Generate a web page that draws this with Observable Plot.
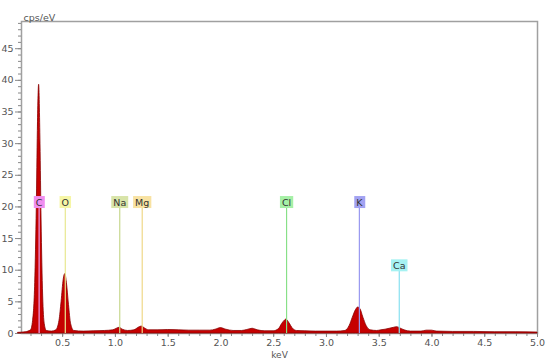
<!DOCTYPE html>
<html>
<head>
<meta charset="utf-8">
<script src="https://cdn.jsdelivr.net/npm/d3@7"></script>
<script src="https://cdn.jsdelivr.net/npm/@observablehq/plot@0.6"></script>
<style>
  html, body { margin: 0; padding: 0; background: #fff; }
  #chart svg { display: block; }
</style>
</head>
<body>
<div id="chart"></div>
<script>
// Spectrum (keV, cps/eV)
const energy = [0.08,0.15,0.20,0.22,0.24,0.255,0.265,0.277,0.29,0.30,0.315,0.33,0.35,0.40,0.44,0.47,0.49,0.51,0.525,0.54,0.56,0.58,0.61,0.70,0.80,0.90,0.98,1.02,1.04,1.07,1.12,1.18,1.22,1.25,1.28,1.32,1.40,1.50,1.60,1.70,1.80,1.90,1.95,2.00,2.05,2.12,2.20,2.25,2.30,2.35,2.42,2.50,2.55,2.58,2.61,2.62,2.65,2.68,2.72,2.80,2.90,3.00,3.10,3.18,3.22,3.25,3.28,3.30,3.32,3.35,3.38,3.42,3.48,3.52,3.56,3.60,3.64,3.67,3.70,3.74,3.80,3.90,3.95,4.00,4.05,4.20,4.40,4.60,4.80,5.00];
const counts = [0.1,0.2,0.5,2,8,20,32,39.3,30,18,6,1.5,0.4,0.3,0.5,2,5,8.5,9.4,8,4.5,1.5,0.4,0.3,0.35,0.4,0.5,0.8,0.9,0.6,0.4,0.5,0.9,1.1,0.8,0.5,0.5,0.55,0.5,0.45,0.45,0.45,0.6,0.85,0.6,0.4,0.4,0.55,0.75,0.5,0.35,0.35,0.7,1.5,2.1,2.2,1.6,0.8,0.4,0.35,0.3,0.3,0.3,0.4,1.2,2.5,3.7,4.1,3.9,2.5,1.2,0.5,0.4,0.5,0.6,0.75,0.9,1.0,0.8,0.5,0.3,0.3,0.45,0.45,0.3,0.25,0.25,0.2,0.2,0.15];

// Element markers
const elements = ["C","O","Na","Mg","Cl","K","Ca"];
const elementKeV = [0.277,0.525,1.041,1.254,2.622,3.312,3.690];
const labelLevel = [20.7,20.7,20.7,20.7,20.7,20.7,10.7];
const boxColors = ["#f08ef0","#f6f6a6","#d8e4a8","#f8e2a2","#a6f0a6","#a2a2f2","#a6f2f2"];
const lineColors = ["#f0a0f0","#e8e890","#c8d890","#f0d888","#88e088","#9898f0","#88e0f0"];

// Axes
const xTicks = [0.5,1.0,1.5,2.0,2.5,3.0,3.5,4.0,4.5,5.0];
const yTicks = [0,5,10,15,20,25,30,35,40,45];
const xMinor = d3.range(2, 51).map(i => i / 10);
const yMinor = d3.range(0, 50);

const spectrum = energy.map((e, i) => ({e, c: counts[i]}));
const marks = elements.map((name, i) => ({name, e: elementKeV[i], y: labelLevel[i], box: boxColors[i], line: lineColors[i]}));

const LABEL_FILL = "#323232";

const chart = Plot.plot({
  width: 547,
  height: 362,
  marginLeft: 21,
  marginRight: 10,
  marginTop: 21,
  marginBottom: 29,
  style: {fontFamily: "DejaVu Sans, Verdana, sans-serif", fontSize: "9px", color: "#555", background: "#fff"},
  x: {domain: [0.11, 5.0], axis: null},
  y: {domain: [0, 49.3], axis: null},
  marks: [
    Plot.frame({stroke: "#a0a0a0", strokeWidth: 1.5}),
    Plot.axisY(yMinor, {tickSize: 3, tickFormat: () => "", stroke: "#888", label: null}),
    Plot.axisY(yTicks, {tickSize: 6, tickPadding: 2, stroke: "#888", fill: "#555", fontSize: 9.5, label: null}),
    Plot.axisX(xMinor, {tickSize: 3, tickFormat: () => "", stroke: "#888", label: null}),
    Plot.axisX(xTicks, {tickSize: 4, tickPadding: 2, tickFormat: d3.format(".1f"), stroke: "#888", fill: "#555", fontSize: 9.5, label: null}),
    Plot.areaY(spectrum, {x: "e", y: "c", fill: "#c60000", stroke: "#880000", strokeWidth: 0.8, curve: "monotone-x"}),
    Plot.ruleX(marks, {x: "e", y1: 0, y2: "y", stroke: "line", strokeWidth: 1.2}),
    Plot.text(marks, {x: "e", y: "y", text: "name", fill: LABEL_FILL, fontSize: 9.5}),
    Plot.text(["cps/eV"], {frameAnchor: "top-left", dx: 2, dy: -7, textAnchor: "start", fill: "#555", fontSize: 9.5}),
    Plot.text(["keV"], {frameAnchor: "bottom", dy: 24.5, fill: "#555", fontSize: 9})
  ]
});

document.getElementById("chart").appendChild(chart);

// Background boxes behind element labels (sized from the rendered text)
const labelGroup = Array.from(chart.querySelectorAll("g")).find(g => g.getAttribute("fill") === LABEL_FILL);
if (labelGroup) {
  const texts = Array.from(labelGroup.querySelectorAll("text"));
  texts.forEach((t, i) => {
    const bb = t.getBBox();
    const r = document.createElementNS("http://www.w3.org/2000/svg", "rect");
    r.setAttribute("x", bb.x - 2);
    r.setAttribute("y", bb.y - 0.5);
    r.setAttribute("width", bb.width + 4);
    r.setAttribute("height", bb.height + 1);
    const m = marks.find(d => d.name === t.textContent) || marks[i];
    r.setAttribute("fill", m.box);
    const tr = t.getAttribute("transform");
    if (tr) r.setAttribute("transform", tr);
    labelGroup.insertBefore(r, t);
  });
}
</script>
</body>
</html>
